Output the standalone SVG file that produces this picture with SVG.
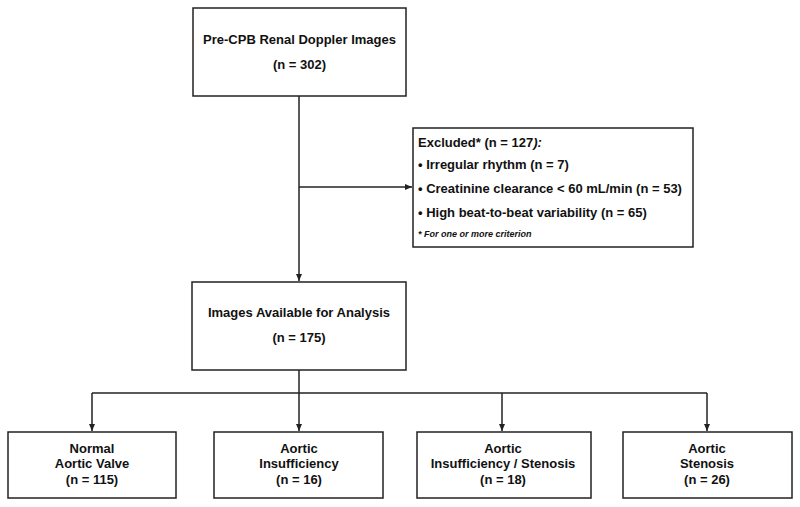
<svg xmlns="http://www.w3.org/2000/svg" width="800" height="507" viewBox="0 0 800 507">
<style>
.box{fill:#fff;stroke:#222;stroke-width:1.5}
.t{font-family:"Liberation Sans",Arial,sans-serif;font-weight:bold;font-size:13px;fill:#111}
.c{text-anchor:middle}
.fn{font-size:9px;font-style:italic}
.ln{fill:none;stroke:#222;stroke-width:1.5}
</style>
<defs>
<marker id="ah" markerWidth="8" markerHeight="8" refX="7" refY="4" orient="auto" markerUnits="userSpaceOnUse">
<path d="M0,1 L7,4 L0,7 Z" fill="#222"/>
</marker>
</defs>
<rect width="800" height="507" fill="#fff"/>
<g id="connectors">
<path class="ln" d="M299,96 V281" marker-end="url(#ah)"/>
<path class="ln" d="M299,187 H412" marker-end="url(#ah)"/>
<path class="ln" d="M299,370 V393"/>
<path class="ln" d="M92,393 H707"/>
<path class="ln" d="M92,393 V431" marker-end="url(#ah)"/>
<path class="ln" d="M299,393 V431" marker-end="url(#ah)"/>
<path class="ln" d="M502,393 V431" marker-end="url(#ah)"/>
<path class="ln" d="M707,393 V431" marker-end="url(#ah)"/>
</g>
<g id="pre-cpb">
<rect class="box" x="193" y="8" width="213" height="88"/>
<text class="t c" x="299.5" y="44">Pre-CPB Renal Doppler Images</text>
<text class="t c" x="299.5" y="69">(n = 302)</text>
</g>
<g id="excluded">
<rect class="box" x="413" y="128" width="280" height="119"/>
<text class="t" x="418" y="147">Excluded* (n = 127<tspan font-style="italic">):</tspan></text>
<text class="t" x="418" y="169">• Irregular rhythm (n = 7)</text>
<text class="t" x="418" y="193">• Creatinine clearance &lt; 60 mL/min (n = 53)</text>
<text class="t" x="418" y="217">• High beat-to-beat variability (n = 65)</text>
<text class="t fn" x="418" y="237">* For one or more criterion</text>
</g>
<g id="available">
<rect class="box" x="192" y="282" width="214" height="88"/>
<text class="t c" x="299" y="317">Images Available for Analysis</text>
<text class="t c" x="299" y="342">(n = 175)</text>
</g>
<g id="normal">
<rect class="box" x="8" y="432" width="168" height="66"/>
<text class="t c" x="92" y="453">Normal</text>
<text class="t c" x="92" y="468">Aortic Valve</text>
<text class="t c" x="92" y="484">(n = 115)</text>
</g>
<g id="insufficiency">
<rect class="box" x="214" y="432" width="169" height="66"/>
<text class="t c" x="299" y="453">Aortic</text>
<text class="t c" x="299" y="468">Insufficiency</text>
<text class="t c" x="299" y="484">(n = 16)</text>
</g>
<g id="insuff-stenosis">
<rect class="box" x="417" y="432" width="174" height="66"/>
<text class="t c" x="503" y="453">Aortic</text>
<text class="t c" x="503" y="468">Insufficiency / Stenosis</text>
<text class="t c" x="503" y="484">(n = 18)</text>
</g>
<g id="stenosis">
<rect class="box" x="623" y="432" width="169" height="66"/>
<text class="t c" x="707" y="453">Aortic</text>
<text class="t c" x="707" y="468">Stenosis</text>
<text class="t c" x="707" y="484">(n = 26)</text>
</g>
</svg>
